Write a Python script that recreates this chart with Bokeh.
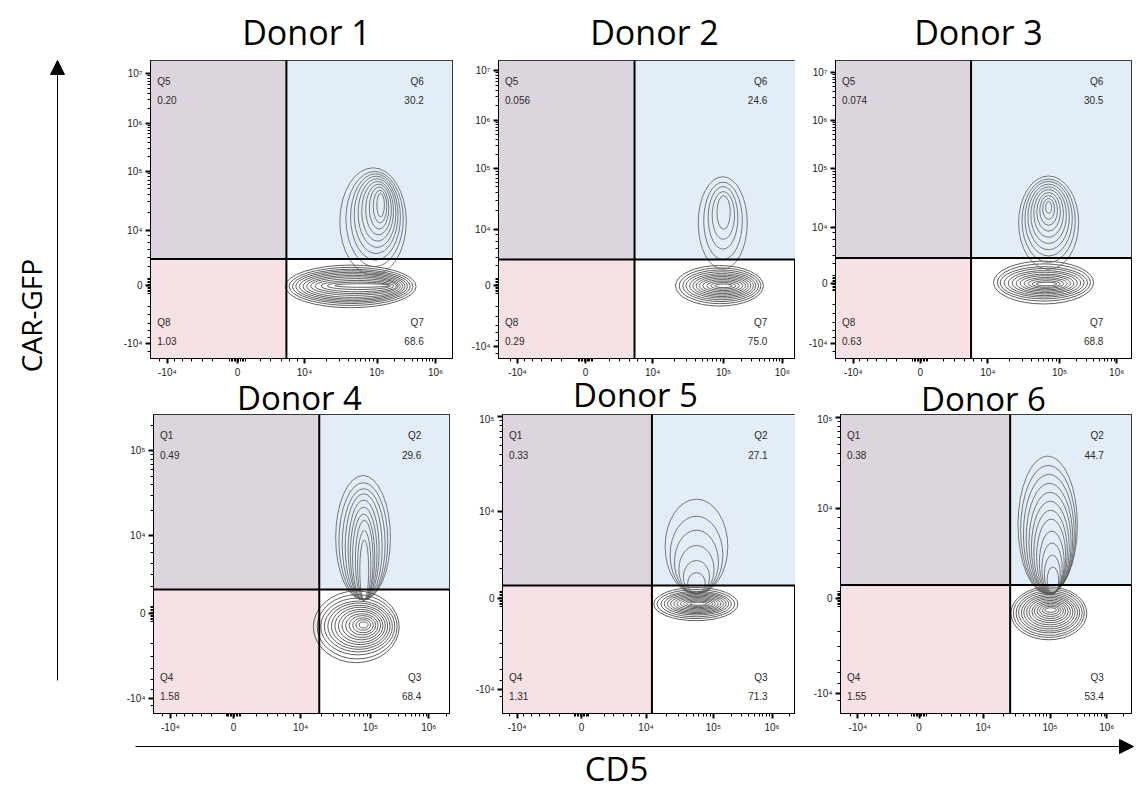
import math
from bokeh.plotting import figure
from bokeh.models import Range1d, FixedTicker, Label, Span, Arrow, NormalHead
from bokeh.layouts import row, column
from bokeh.embed import file_html
from bokeh.resources import INLINE

# ---------------- data ----------------
DONORS = ["Donor 1", "Donor 2", "Donor 3", "Donor 4", "Donor 5", "Donor 6"]
QUAD_NAMES = [["Q5", "Q6", "Q7", "Q8"]] * 3 + [["Q1", "Q2", "Q3", "Q4"]] * 3
# upper-left, upper-right, lower-right, lower-left
QUAD_VALUES = [
    ["0.20", "30.2", "68.6", "1.03"],
    ["0.056", "24.6", "75.0", "0.29"],
    ["0.074", "30.5", "68.8", "0.63"],
    ["0.49", "29.6", "68.4", "1.58"],
    ["0.33", "27.1", "71.3", "1.31"],
    ["0.38", "44.7", "53.4", "1.55"],
]
X_TICK_LABELS = ["-10⁴", "0", "10⁴", "10⁵", "10⁶"]
Y_TICK_LABELS_TOP = ["-10⁴", "0", "10⁴", "10⁵", "10⁶", "10⁷"]
Y_TICK_LABELS_BOTTOM = ["-10⁴", "0", "10⁴", "10⁵"]
X_AXIS_TITLE = "CD5"
Y_AXIS_TITLE = "CAR-GFP"

# tick positions on the display (biexponential) scale, 0..1 of each axis
X_TICKS = [
    [0.056, 0.288, 0.51, 0.75, 0.944],
    [0.064, 0.293, 0.519, 0.758, 0.956],
    [0.06, 0.286, 0.515, 0.757, 0.95],
    [0.057, 0.27, 0.497, 0.733, 0.93],
    [0.05, 0.27, 0.49, 0.72, 0.92],
    [0.06, 0.27, 0.49, 0.72, 0.915],
]
Y_TICKS = [
    [0.05, 0.244, 0.431, 0.629, 0.789, 0.957],
    [0.041, 0.244, 0.434, 0.637, 0.80, 0.966],
    [0.05, 0.253, 0.44, 0.637, 0.80, 0.96],
    [0.051, 0.333, 0.595, 0.878],
    [0.081, 0.384, 0.677, 0.993],
    [0.068, 0.383, 0.685, 0.99],
]
GATE_X = [0.45, 0.458, 0.458, 0.56, 0.51, 0.583]
GATE_Y = [0.334, 0.332, 0.337, 0.415, 0.428, 0.43]

# contour rings (cx, cy, width, height) in display units
D1_UP = [(0.762, 0.515, 0.025, 0.08), (0.760, 0.510, 0.045, 0.11), (0.757, 0.505, 0.065, 0.14),
         (0.755, 0.500, 0.085, 0.17), (0.752, 0.494, 0.105, 0.20), (0.750, 0.488, 0.125, 0.23),
         (0.747, 0.482, 0.145, 0.26), (0.745, 0.475, 0.165, 0.29), (0.742, 0.468, 0.19, 0.32),
         (0.737, 0.46, 0.22, 0.36)]
D1_LO = [(0.70, 0.245, 0.18, 0.012), (0.69, 0.244, 0.21, 0.025), (0.685, 0.243, 0.24, 0.038),
         (0.68, 0.243, 0.27, 0.05), (0.675, 0.243, 0.29, 0.062), (0.672, 0.242, 0.31, 0.074),
         (0.67, 0.242, 0.33, 0.085), (0.668, 0.242, 0.35, 0.095), (0.666, 0.242, 0.37, 0.105),
         (0.665, 0.242, 0.39, 0.115), (0.664, 0.242, 0.41, 0.128), (0.663, 0.242, 0.433, 0.143)]
D2_UP = [(0.758, 0.49, 0.045, 0.113), (0.757, 0.48, 0.075, 0.16), (0.756, 0.472, 0.10, 0.21),
         (0.756, 0.462, 0.13, 0.26), (0.755, 0.455, 0.165, 0.31)]
D2_LO = [(0.758, 0.244, 0.06, 0.012), (0.757, 0.244, 0.085, 0.022), (0.756, 0.244, 0.11, 0.032),
         (0.755, 0.244, 0.135, 0.042), (0.754, 0.244, 0.155, 0.052), (0.753, 0.244, 0.175, 0.062),
         (0.752, 0.244, 0.195, 0.072), (0.751, 0.244, 0.215, 0.082), (0.749, 0.244, 0.235, 0.094),
         (0.748, 0.244, 0.255, 0.106), (0.746, 0.244, 0.275, 0.12), (0.744, 0.244, 0.296, 0.136)]
D3_UP = [(0.72, 0.507, 0.02, 0.04), (0.72, 0.502, 0.04, 0.07), (0.72, 0.497, 0.06, 0.10),
         (0.72, 0.492, 0.08, 0.13), (0.72, 0.487, 0.10, 0.16), (0.72, 0.481, 0.12, 0.19),
         (0.72, 0.475, 0.14, 0.22), (0.72, 0.469, 0.16, 0.25), (0.72, 0.462, 0.18, 0.28),
         (0.72, 0.456, 0.203, 0.313)]
D3_LO = [(0.713, 0.25, 0.07, 0.012), (0.712, 0.25, 0.095, 0.022), (0.711, 0.251, 0.12, 0.032),
         (0.710, 0.251, 0.145, 0.042), (0.709, 0.252, 0.17, 0.052), (0.708, 0.252, 0.195, 0.062),
         (0.707, 0.253, 0.22, 0.073), (0.706, 0.253, 0.245, 0.084), (0.705, 0.254, 0.27, 0.096),
         (0.704, 0.254, 0.295, 0.108), (0.704, 0.255, 0.315, 0.125), (0.703, 0.255, 0.338, 0.144)]
D4_UP = [(0.708, 0.588, 0.185, 0.416), (0.709, 0.576, 0.165, 0.392), (0.71, 0.566, 0.145, 0.372),
         (0.71, 0.5575, 0.125, 0.355), (0.71, 0.547, 0.105, 0.334), (0.71, 0.535, 0.09, 0.31),
         (0.71, 0.5235, 0.075, 0.287), (0.712, 0.513, 0.06, 0.266), (0.712, 0.496, 0.045, 0.232),
         (0.712, 0.48, 0.03, 0.2)]
D4_LO = [(0.71, 0.296, 0.03, 0.02), (0.709, 0.296, 0.05, 0.035), (0.708, 0.295, 0.07, 0.05),
         (0.706, 0.295, 0.09, 0.065), (0.704, 0.294, 0.11, 0.08), (0.702, 0.294, 0.13, 0.095),
         (0.70, 0.293, 0.15, 0.11), (0.698, 0.293, 0.17, 0.125), (0.696, 0.292, 0.19, 0.14),
         (0.694, 0.292, 0.21, 0.155), (0.692, 0.291, 0.23, 0.17), (0.69, 0.291, 0.25, 0.19),
         (0.688, 0.29, 0.27, 0.215), (0.685, 0.29, 0.29, 0.24)]
D5_UP = [(0.662, 0.5585, 0.214, 0.317), (0.662, 0.53, 0.18, 0.26), (0.662, 0.5065, 0.15, 0.213),
         (0.662, 0.481, 0.12, 0.162), (0.662, 0.456, 0.09, 0.112), (0.662, 0.4355, 0.06, 0.071)]
D5_LO = [(0.669, 0.367, 0.06, 0.01), (0.668, 0.367, 0.08, 0.018), (0.668, 0.367, 0.10, 0.026),
         (0.667, 0.367, 0.12, 0.034), (0.666, 0.367, 0.14, 0.042), (0.665, 0.367, 0.16, 0.05),
         (0.664, 0.367, 0.18, 0.058), (0.663, 0.367, 0.20, 0.066), (0.662, 0.367, 0.22, 0.075),
         (0.661, 0.366, 0.24, 0.085), (0.66, 0.366, 0.265, 0.097), (0.66, 0.366, 0.287, 0.111)]
D6_UP = [(0.712, 0.6305, 0.204, 0.461), (0.714, 0.615, 0.19, 0.43), (0.716, 0.60, 0.175, 0.40),
         (0.718, 0.585, 0.16, 0.37), (0.72, 0.57, 0.145, 0.34), (0.721, 0.555, 0.13, 0.31),
         (0.722, 0.54, 0.115, 0.28), (0.724, 0.525, 0.10, 0.25), (0.726, 0.505, 0.085, 0.21),
         (0.727, 0.485, 0.07, 0.17), (0.728, 0.465, 0.055, 0.13), (0.73, 0.445, 0.04, 0.09)]
D6_LO = [(0.722, 0.346, 0.04, 0.015), (0.722, 0.345, 0.057, 0.027), (0.721, 0.344, 0.074, 0.039),
         (0.721, 0.343, 0.091, 0.051), (0.72, 0.342, 0.108, 0.063), (0.72, 0.341, 0.125, 0.075),
         (0.719, 0.34, 0.142, 0.087), (0.719, 0.339, 0.159, 0.099), (0.718, 0.338, 0.176, 0.111),
         (0.718, 0.337, 0.193, 0.123), (0.717, 0.337, 0.21, 0.135), (0.717, 0.336, 0.227, 0.149),
         (0.716, 0.336, 0.244, 0.163), (0.716, 0.335, 0.261, 0.177)]
UPPER_POPS = [D1_UP, D2_UP, D3_UP, D4_UP, D5_UP, D6_UP]
LOWER_POPS = [D1_LO, D2_LO, D3_LO, D4_LO, D5_LO, D6_LO]

# ---------------- styling / layout (page pixels) ----------------
C_UL = "#ddd5de"
C_UR = "#e3edf7"
C_LL = "#f6e2e4"
CONTOUR = "#5a5a5a"
TITLE_FONT = "Open Sans"
SMALL_FONT = "Liberation Sans"

PAGE_W = 1134
LEFT_W = 108
FIG_W = [347, 340, 339, 347, 340, 339]
BORDER_L = [42, 43, 40, 45, 47, 45]
BORDER_R = [3, 0, 3, 6, 0, 3]
STRIP1_H = 59
ROW1_H = 321
STRIP2_H = 33          # net height of the second title strip
STRIP2_UP = 14         # it reaches up over the tick labels above it ...
STRIP2_DOWN = 8        # ... and down over the panels' top edge
ROW2_H = 324
BOTTOM_H = 54
TOTAL_H = STRIP1_H + ROW1_H + STRIP2_H + ROW2_H + BOTTOM_H
# title positions (page px: center x, middle y) and sizes
TITLE_POS = [(306, 31), (654, 31), (978, 31), (299, 397), (635, 394), (983, 398)]
TITLE_SIZE = ["34px", "34px", "34px", "33px", "33px", "33px"]


def minor_ticks(pos):
    m = []
    neg, zero, p4 = pos[0], pos[1], pos[2]
    for k in (1, 2, 3, 4, 5):
        m += [zero + k * 0.005, zero - k * 0.005]
    for f in (0.35, 0.5, 0.65, 0.78, 0.9):
        m += [zero + f * (p4 - zero), zero - f * (zero - neg)]
    m += [neg - 0.025]
    decs = pos[2:]
    for a, b in zip(decs[:-1], decs[1:]):
        for k in range(2, 10):
            m.append(a + (b - a) * math.log10(k))
    if len(decs) >= 2:
        a, b = decs[-1], decs[-1] + (decs[-1] - decs[-2])
        for k in range(2, 10):
            m.append(a + (b - a) * math.log10(k))
    return [v for v in m if 0.003 < v < 0.997]


def make_panel(i):
    top_row = i < 3
    h = ROW1_H if top_row else ROW2_H
    bb = 20 if top_row else 24
    p = figure(width=FIG_W[i], height=h, x_range=Range1d(0, 1), y_range=Range1d(0, 1),
               output_backend="svg", toolbar_location=None,
               min_border_left=BORDER_L[i], min_border_right=BORDER_R[i],
               min_border_top=1, min_border_bottom=bb)
    p.grid.visible = False
    p.outline_line_color = "black"
    p.outline_line_width = 1
    p.background_fill_color = "white"
    p.border_fill_color = None

    gx, gy = GATE_X[i], GATE_Y[i]
    p.quad(left=[0, gx, 0], right=[gx, 1, gx], bottom=[gy, gy, 0], top=[1, 1, gy],
           fill_color=[C_UL, C_UR, C_LL], line_color=None)

    for pop, col, lw in ((LOWER_POPS[i], "#4d4d4d", 0.9), (UPPER_POPS[i], CONTOUR, 0.8)):
        p.ellipse(x=[r[0] for r in pop], y=[r[1] for r in pop],
                  width=[r[2] for r in pop], height=[r[3] for r in pop],
                  fill_color=None, line_color=col, line_width=lw)

    p.add_layout(Span(location=gx, dimension="height", line_color="black", line_width=2))
    p.add_layout(Span(location=gy, dimension="width", line_color="black", line_width=2))

    names = QUAD_NAMES[i]
    vals = QUAD_VALUES[i]
    qy_hi = (0.93, 0.866)
    qy_lo = (0.122, 0.06)
    spots = [(0.022, qy_hi, "left"), (0.905, qy_hi, "right"), (0.905, qy_lo, "right"), (0.022, qy_lo, "left")]
    for (x, ys, al), nm, vv in zip(spots, names, vals):
        for yy, t in zip(ys, (nm, vv)):
            p.add_layout(Label(x=x, y=yy, text=t, text_align=al, text_baseline="middle",
                               text_font=SMALL_FONT, text_font_size="10px", text_color="#2a2a2a"))

    xt = X_TICKS[i]
    yt = Y_TICKS[i]
    ylabs = Y_TICK_LABELS_TOP if top_row else Y_TICK_LABELS_BOTTOM
    p.xaxis.ticker = FixedTicker(ticks=xt, minor_ticks=minor_ticks(xt))
    p.yaxis.ticker = FixedTicker(ticks=yt, minor_ticks=minor_ticks(yt))
    p.xaxis.major_label_overrides = {t: l for t, l in zip(xt, X_TICK_LABELS)}
    p.yaxis.major_label_overrides = {t: l for t, l in zip(yt, ylabs)}
    for ax in (p.xaxis[0], p.yaxis[0]):
        ax.axis_line_color = "black"
        ax.major_tick_line_color = "black"
        ax.minor_tick_line_color = "black"
        ax.major_tick_line_width = 2
        ax.minor_tick_line_width = 1
        ax.major_tick_in = 0
        ax.minor_tick_in = 0
        ax.major_tick_out = 5
        ax.minor_tick_out = 3
        ax.major_label_standoff = 3
        ax.major_label_text_font = SMALL_FONT
        ax.major_label_text_font_size = "10px"
        ax.major_label_text_color = "#222222"
    return p


def blank(width, height, x0, x1, y0, y1):
    f = figure(width=width, height=height, x_range=Range1d(x0, x1), y_range=Range1d(y1, y0),
               output_backend="svg", toolbar_location=None, x_axis_location=None,
               y_axis_location=None, min_border=0, outline_line_color=None)
    f.grid.visible = False
    f.background_fill_color = None
    f.border_fill_color = None
    return f


def title_label(i):
    x, y = TITLE_POS[i]
    return Label(x=x, y=y, text=DONORS[i], text_align="center", text_baseline="middle",
                 text_font=TITLE_FONT, text_font_size=TITLE_SIZE[i], text_color="black")


panels = [make_panel(i) for i in range(6)]

strip_w = PAGE_W - LEFT_W
strip1 = blank(strip_w, STRIP1_H, LEFT_W, PAGE_W, 0, STRIP1_H)
for i in range(3):
    strip1.add_layout(title_label(i))

y2 = STRIP1_H + ROW1_H
strip2 = blank(strip_w, STRIP2_H + STRIP2_UP + STRIP2_DOWN, LEFT_W, PAGE_W,
               y2 - STRIP2_UP, y2 + STRIP2_H + STRIP2_DOWN)
strip2.margin = (-STRIP2_UP, 0, -STRIP2_DOWN, 0)
for i in range(3, 6):
    strip2.add_layout(title_label(i))

# left annotation column: y-axis arrow and title
left = blank(LEFT_W, TOTAL_H, 0, LEFT_W, 0, TOTAL_H)
left.add_layout(Arrow(end=NormalHead(size=14, fill_color="black", line_color="black"),
                      x_start=57, y_start=680, x_end=57, y_end=60,
                      line_color="black", line_width=1))
left.add_layout(Label(x=30, y=315, text=Y_AXIS_TITLE, angle=math.pi / 2, text_align="center",
                      text_baseline="middle", text_font=TITLE_FONT, text_font_size="28px",
                      text_color="black"))

# bottom annotation row: x-axis arrow and title
y3 = TOTAL_H - BOTTOM_H
bottom = blank(strip_w, BOTTOM_H, LEFT_W, PAGE_W, y3, TOTAL_H)
bottom.add_layout(Arrow(end=NormalHead(size=14, fill_color="black", line_color="black"),
                        x_start=135, y_start=746, x_end=PAGE_W - 1, y_end=746,
                        line_color="black", line_width=1))
bottom.add_layout(Label(x=616, y=768, text=X_AXIS_TITLE, text_align="center", text_baseline="middle",
                        text_font=TITLE_FONT, text_font_size="33px", text_color="black"))

layout = row(left, column(strip1, row(*panels[:3]), strip2, row(*panels[3:]), bottom))

open("out.html", "w").write(file_html(layout, INLINE))
